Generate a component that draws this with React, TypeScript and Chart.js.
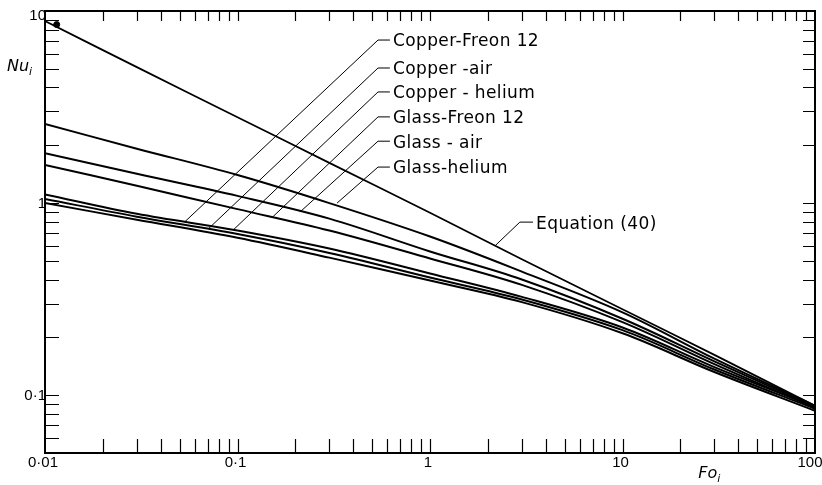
import React, { useEffect, useRef } from "react";
import { Chart, registerables } from "chart.js";

Chart.register(...registerables);

// Fourier number (x) sample points
const FO = [0.01, 0.03, 0.1, 0.3, 1, 3, 10, 30, 100];

// Nusselt number series (y)
const NU_EQ40 = [8.87, 5.1, 2.8, 1.62, 0.89, 0.51, 0.28, 0.162, 0.088];
const NU_GLASS_HELIUM = [2.58, 1.92, 1.4, 1.0, 0.67, 0.44, 0.27, 0.155, 0.088];
const NU_GLASS_AIR = [1.82, 1.42, 1.09, 0.83, 0.56, 0.4, 0.25, 0.15, 0.087];
const NU_GLASS_FREON = [1.58, 1.23, 0.93, 0.72, 0.515, 0.375, 0.24, 0.145, 0.086];
const NU_COPPER_FREON = [1.11, 0.88, 0.72, 0.58, 0.43, 0.325, 0.225, 0.14, 0.087];
const NU_COPPER_AIR = [1.05, 0.85, 0.69, 0.55, 0.41, 0.315, 0.218, 0.136, 0.085];
const NU_COPPER_HELIUM = [1.0, 0.82, 0.66, 0.52, 0.395, 0.305, 0.21, 0.132, 0.083];

// Marker at the start of equation (40)
const DOT_FO = [0.0115];
const DOT_NU = [8.5];

// Curve labels with leader lines (data coordinates)
const LABEL_TEXT = [
  "Copper-Freon 12",
  "Copper -air",
  "Copper - helium",
  "Glass-Freon 12",
  "Glass - air",
  "Glass-helium",
  "Equation (40)",
];
const LEADER_END_FO = [0.0533, 0.0703, 0.0948, 0.151, 0.211, 0.329, 2.18];
const LEADER_END_NU = [0.8, 0.732, 0.723, 0.84, 0.898, 1.0, 0.6];
const LEADER_KNEE_FO = [0.537, 0.537, 0.537, 0.537, 0.537, 0.537, 2.93];
const LEADER_KNEE_NU = [7.06, 5.05, 3.79, 2.81, 2.1, 1.54, 0.796];
const LEADER_TIP_FO = [0.619, 0.619, 0.619, 0.619, 0.619, 0.619, 3.43];

// Axis tick labels
const X_TICK_VALUES = [0.01, 0.1, 1, 10, 100];
const X_TICK_LABELS = ["0·01", "0·1", "1", "10", "100"];
const Y_TICK_VALUES = [0.1, 1, 10];
const Y_TICK_LABELS = ["0·1", "1", "10"];

const X_MIN = 0.01;
const X_MAX = 100;
const Y_MIN = 0.05;
const Y_MAX = 10;

function minorValues(min: number, max: number): number[] {
  const out: number[] = [];
  let dec = Math.pow(10, Math.floor(Math.log10(min)));
  while (dec <= max) {
    for (let m = 1; m <= 9; m++) {
      const v = +(m * dec).toPrecision(6);
      if (v > min * 1.0001 && v < max * 0.9999) out.push(v);
    }
    dec *= 10;
  }
  return out;
}

const pts = (xs: number[], ys: number[]) => xs.map((x, i) => ({ x, y: ys[i] }));

const framePlugin = {
  id: "frameTicks",
  afterDraw(chart: any) {
    const { ctx, chartArea } = chart;
    const { left, right, top, bottom } = chartArea;
    const xs = chart.scales.x;
    const ys = chart.scales.y;
    ctx.save();
    ctx.strokeStyle = "#000";
    ctx.lineWidth = 2;
    ctx.strokeRect(left, top, right - left, bottom - top);

    ctx.lineWidth = 1.2;
    ctx.beginPath();
    for (const v of minorValues(X_MIN, X_MAX)) {
      const px = Math.round(xs.getPixelForValue(v)) + 0.5;
      ctx.moveTo(px, bottom);
      ctx.lineTo(px, bottom - 14);
      ctx.moveTo(px, top);
      ctx.lineTo(px, top + 10);
    }
    for (const v of minorValues(Y_MIN, Y_MAX)) {
      const py = Math.round(ys.getPixelForValue(v)) + 0.5;
      ctx.moveTo(left, py);
      ctx.lineTo(left + 14, py);
      ctx.moveTo(right, py);
      ctx.lineTo(right - 12, py);
    }
    ctx.stroke();

    ctx.fillStyle = "#000";
    ctx.font = "15px 'Liberation Sans', Arial, sans-serif";
    ctx.textBaseline = "middle";
    ctx.textAlign = "center";
    X_TICK_VALUES.forEach((v, i) => {
      let px = xs.getPixelForValue(v) - 2;
      if (i === X_TICK_VALUES.length - 1) px = Math.min(px, chart.width - 12);
      ctx.fillText(X_TICK_LABELS[i], px, bottom + 10);
    });
    ctx.textAlign = "right";
    Y_TICK_VALUES.forEach((v, i) => {
      let py = ys.getPixelForValue(v) + 1;
      if (i === Y_TICK_VALUES.length - 1) py = top + 5;
      ctx.fillText(Y_TICK_LABELS[i], left + 1, py);
    });

    // axis titles
    ctx.textAlign = "left";
    ctx.textBaseline = "alphabetic";
    ctx.font = "italic 16px 'DejaVu Sans', sans-serif";
    ctx.fillText("Nu", left - 38, top + 60);
    const nuW = ctx.measureText("Nu").width;
    ctx.font = "italic 11px 'DejaVu Sans', sans-serif";
    ctx.fillText("i", left - 38 + nuW, top + 64);

    ctx.font = "italic 16px 'DejaVu Sans', sans-serif";
    const foX = xs.getPixelForValue(30) - 16;
    ctx.fillText("Fo", foX, bottom + 25);
    const foW = ctx.measureText("Fo").width;
    ctx.font = "italic 11px 'DejaVu Sans', sans-serif";
    ctx.fillText("i", foX + foW, bottom + 29);

    // curve labels
    ctx.font = "17px 'DejaVu Sans', sans-serif";
    try {
      (ctx as any).letterSpacing = "0.4px";
    } catch (e) {}
    ctx.textBaseline = "middle";
    LABEL_TEXT.forEach((t, i) => {
      const px = xs.getPixelForValue(LEADER_TIP_FO[i]) + 3;
      const py = ys.getPixelForValue(LEADER_KNEE_NU[i]) + 2;
      ctx.fillText(t, px, py);
    });
    ctx.restore();
  },
};

export default function App() {
  const ref = useRef<HTMLCanvasElement | null>(null);

  useEffect(() => {
    if (!ref.current) return;
    const curve = (data: number[], width = 2) => ({
      data: pts(FO, data),
      borderColor: "#000",
      borderWidth: width,
      pointRadius: 0,
      fill: false,
      tension: 0.35,
    });
    const leaders = LABEL_TEXT.map((_, i) => ({
      data: [
        { x: LEADER_END_FO[i], y: LEADER_END_NU[i] },
        { x: LEADER_KNEE_FO[i], y: LEADER_KNEE_NU[i] },
        { x: LEADER_TIP_FO[i], y: LEADER_KNEE_NU[i] },
      ],
      borderColor: "#000",
      borderWidth: 1,
      pointRadius: 0,
      fill: false,
      tension: 0,
    }));
    const chart = new Chart(ref.current, {
      type: "line",
      data: {
        datasets: [
          curve(NU_EQ40, 1.8),
          curve(NU_GLASS_HELIUM),
          curve(NU_GLASS_AIR),
          curve(NU_GLASS_FREON),
          curve(NU_COPPER_FREON),
          curve(NU_COPPER_AIR),
          curve(NU_COPPER_HELIUM),
          ...leaders,
          {
            data: pts(DOT_FO, DOT_NU),
            showLine: false,
            pointRadius: 3,
            pointBackgroundColor: "#000",
            pointBorderColor: "#000",
            borderColor: "#000",
          },
        ] as any,
      },
      options: {
        animation: false,
        responsive: true,
        maintainAspectRatio: false,
        devicePixelRatio: 1,
        layout: { padding: { left: 45, right: 7, top: 11, bottom: 32 } },
        plugins: { legend: { display: false }, tooltip: { enabled: false } },
        events: [],
        scales: {
          x: { type: "logarithmic", min: X_MIN, max: X_MAX, display: false },
          y: { type: "logarithmic", min: Y_MIN, max: Y_MAX, display: false },
        },
      },
      plugins: [framePlugin],
    });
    return () => chart.destroy();
  }, []);

  return (
    <div style={{ position: "fixed", left: 0, top: 0, width: 822, height: 485, background: "#fff" }}>
      <canvas ref={ref} />
    </div>
  );
}
